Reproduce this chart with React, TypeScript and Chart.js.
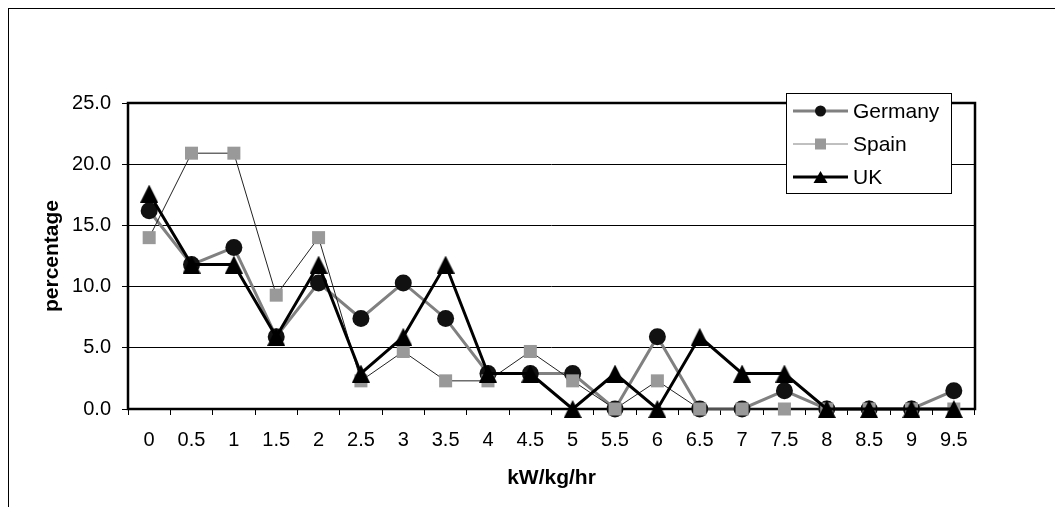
import React, { useEffect, useRef } from 'react';
import { Chart, registerables } from 'chart.js';

Chart.register(...registerables);

const categories = ['0', '0.5', '1', '1.5', '2', '2.5', '3', '3.5', '4', '4.5', '5', '5.5', '6', '6.5', '7', '7.5', '8', '8.5', '9', '9.5'];
const germany = [16.2, 11.8, 13.2, 5.9, 10.3, 7.4, 10.3, 7.4, 2.9, 2.9, 2.9, 0, 5.9, 0, 0, 1.5, 0, 0, 0, 1.5];
const spain = [14.0, 20.9, 20.9, 9.3, 14.0, 2.3, 4.7, 2.3, 2.3, 4.7, 2.3, 0, 2.3, 0, 0, 0, 0, 0, 0, 0];
const uk = [17.6, 11.8, 11.8, 5.9, 11.8, 2.9, 5.9, 11.8, 2.9, 2.9, 0, 2.9, 0, 5.9, 2.9, 2.9, 0, 0, 0, 0];
const seriesNames = ['Germany', 'Spain', 'UK'];
const yMin = 0;
const yMax = 25;
const yStep = 5;
const xTitle = 'kW/kg/hr';
const yTitle = 'percentage';

const FONT = "'Liberation Sans', Arial, Helvetica, sans-serif";

function makeTriangle(w: number, h: number, color: string) {
  const c = document.createElement('canvas');
  c.width = w;
  c.height = h;
  const ctx = c.getContext('2d')!;
  ctx.fillStyle = color;
  ctx.beginPath();
  ctx.moveTo(w / 2, 0);
  ctx.lineTo(w, h);
  ctx.lineTo(0, h);
  ctx.closePath();
  ctx.fill();
  return c;
}

const framePlugin = {
  id: 'frame',
  beforeDraw(chart: any) {
    const ctx = chart.ctx;
    ctx.save();
    ctx.fillStyle = '#000';
    ctx.fillRect(0, 0, 2, chart.height);
    ctx.fillRect(0, 0, chart.width, 1);
    ctx.restore();
  },
  beforeDatasetsDraw(chart: any) {
    const { left, right, top, bottom } = chart.chartArea;
    const ctx = chart.ctx;
    ctx.save();
    ctx.strokeStyle = '#000';
    ctx.lineWidth = 2.5;
    ctx.strokeRect(left, top, right - left, bottom - top);
    ctx.restore();
  },
};

const legendPlugin = {
  id: 'boxLegend',
  afterDraw(chart: any) {
    const ctx = chart.ctx;
    const { right, top } = chart.chartArea;
    const bx = Math.round(right - 189);
    const by = Math.round(top - 10);
    const bw = 165;
    const bh = 100;
    ctx.save();
    ctx.fillStyle = '#fff';
    ctx.fillRect(bx, by, bw, bh);
    ctx.strokeStyle = '#000';
    ctx.lineWidth = 1;
    ctx.strokeRect(bx + 0.5, by + 0.5, bw, bh);
    const rows = [by + 18, by + 51, by + 84];
    const lx0 = bx + 7;
    const lx1 = bx + 62;
    const mx = (lx0 + lx1) / 2;
    chart.data.datasets.forEach((ds: any, i: number) => {
      const y = rows[i];
      ctx.strokeStyle = i === 1 ? '#808080' : ds.borderColor;
      ctx.lineWidth = i === 1 ? 1 : ds.borderWidth;
      ctx.beginPath();
      ctx.moveTo(lx0, y);
      ctx.lineTo(lx1, y);
      ctx.stroke();
      ctx.fillStyle = ds.pointBackgroundColor;
      if (i === 0) {
        ctx.beginPath();
        ctx.arc(mx, y, 5.5, 0, Math.PI * 2);
        ctx.fill();
      } else if (i === 1) {
        ctx.fillRect(mx - 5.5, y - 5.5, 11, 11);
      } else {
        ctx.beginPath();
        ctx.moveTo(mx, y - 6);
        ctx.lineTo(mx + 7, y + 6);
        ctx.lineTo(mx - 7, y + 6);
        ctx.closePath();
        ctx.fill();
      }
      ctx.fillStyle = '#000';
      ctx.font = `21px ${FONT}`;
      ctx.textBaseline = 'middle';
      ctx.textAlign = 'left';
      ctx.fillText(seriesNames[i], bx + 67, y + 1);
    });
    ctx.restore();
  },
};

export default function App() {
  const ref = useRef<HTMLCanvasElement | null>(null);

  useEffect(() => {
    if (!ref.current) return;
    Chart.defaults.font.family = FONT;
    Chart.defaults.color = '#000';
    const tri = makeTriangle(18, 18, '#000');
    const chart = new Chart(ref.current, {
      type: 'line',
      data: {
        labels: categories,
        datasets: [
          {
            label: seriesNames[0],
            data: germany,
            borderColor: '#808080',
            borderWidth: 3,
            pointStyle: 'circle',
            pointRadius: 8.5,
            pointBackgroundColor: '#111',
            pointBorderColor: '#111',
            pointBorderWidth: 0,
            tension: 0,
            clip: false,
            order: 3,
          },
          {
            label: seriesNames[1],
            data: spain,
            borderColor: '#222',
            borderWidth: 1,
            pointStyle: 'rect',
            pointRadius: 9.2,
            pointBackgroundColor: '#999',
            pointBorderColor: '#999',
            pointBorderWidth: 0,
            tension: 0,
            clip: false,
            order: 2,
          },
          {
            label: seriesNames[2],
            data: uk,
            borderColor: '#000',
            borderWidth: 3,
            pointStyle: tri as any,
            pointRadius: 9,
            pointBackgroundColor: '#000',
            pointBorderColor: '#000',
            tension: 0,
            clip: false,
            order: 1,
          },
        ] as any,
      },
      options: {
        animation: false,
        responsive: true,
        maintainAspectRatio: false,
        layout: { padding: { top: 95, right: 88, left: 0, bottom: 0 } },
        plugins: {
          legend: { display: false },
          tooltip: { enabled: false },
        },
        scales: {
          x: {
            type: 'category',
            offset: true,
            border: { display: false },
            grid: {
              offset: true,
              drawOnChartArea: false,
              drawTicks: true,
              tickLength: 6,
              color: '#000',
              lineWidth: 1,
            },
            ticks: {
              font: { size: 20 },
              color: '#000',
              padding: 13,
              maxRotation: 0,
              autoSkip: false,
            },
            title: {
              display: true,
              text: xTitle,
              font: { size: 21, weight: 'bold' },
              color: '#000',
              padding: { top: 0, bottom: 24.4 },
            },
            afterFit: (scale: any) => {
              scale.height = 106;
            },
          },
          y: {
            min: yMin,
            max: yMax,
            border: { display: false },
            grid: {
              color: '#000',
              lineWidth: 1,
              drawTicks: true,
              tickLength: 6,
            },
            ticks: {
              stepSize: yStep,
              font: { size: 20 },
              color: '#000',
              padding: 11,
              callback: (v: any) => Number(v).toFixed(1),
            },
            title: {
              display: true,
              text: yTitle,
              font: { size: 21, weight: 'bold' },
              color: '#000',
              padding: { top: 32.4, bottom: 0 },
            },
            afterFit: (scale: any) => {
              scale.width = 121;
            },
          },
        },
      } as any,
      plugins: [framePlugin, legendPlugin],
    });
    return () => chart.destroy();
  }, []);

  return (
    <div style={{ position: 'relative', width: 1056, height: 507, marginLeft: -1, marginBottom: -8, background: '#fff' }}>
      <canvas ref={ref} />
    </div>
  );
}
